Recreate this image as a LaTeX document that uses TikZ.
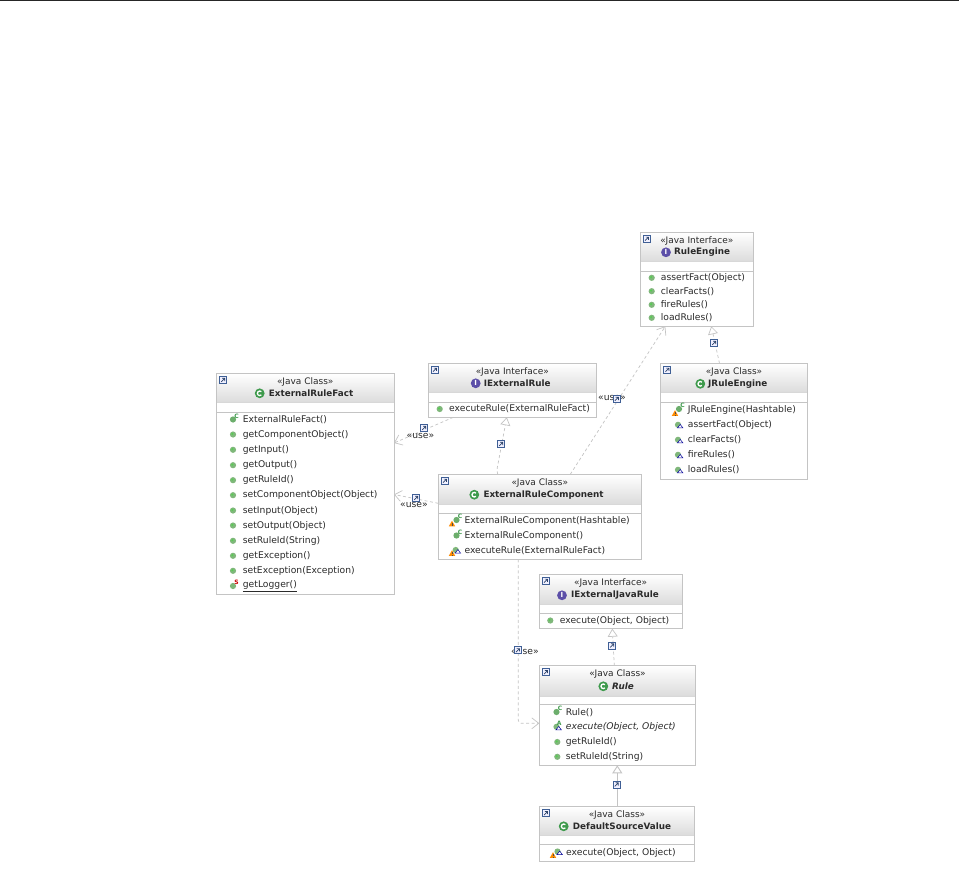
\documentclass[tikz,border=0pt]{standalone}
\usepackage{fontspec}
\setmainfont{DejaVu Sans}
\usetikzlibrary{arrows.meta,calc}
\definecolor{edge}{HTML}{C4C4C4}
\definecolor{sep}{HTML}{D8D8D8}
\definecolor{conn}{HTML}{C4C4C4}
\definecolor{ink}{HTML}{2A2A2A}
\definecolor{mgreen}{HTML}{7FB77A}
\definecolor{cgreen}{HTML}{3E9A4C}
\definecolor{ipurple}{HTML}{5C4FA8}
\definecolor{sqblue}{HTML}{3F5F95}
\tikzset{
  boxstyle/.style={draw=edge,line width=0.9pt,fill=white,inner sep=0pt,outer sep=0pt,anchor=north west},
  memtext/.style={anchor=west,inner sep=0pt,yshift=-0.7pt,font=\fontsize{9.2}{10}\selectfont,text=ink},
  stereotext/.style={anchor=center,inner sep=0pt,font=\fontsize{9}{10}\selectfont,text=ink},
  titletext/.style={anchor=west,inner sep=0pt,font=\fontsize{8.8}{10}\selectfont\bfseries,text=ink},
  uselabel/.style={anchor=center,inner sep=0pt,font=\fontsize{9.2}{10}\selectfont,text=ink},
  dep/.style={draw=conn,line width=0.7pt,dash pattern=on 3pt off 2.5pt,-{Straight Barb[length=7pt,width=11pt]}},
  real/.style={draw=conn,line width=0.7pt,dash pattern=on 3pt off 2.5pt,-{Triangle[open,length=8pt,width=10pt,fill=white]}},
  gen/.style={draw=conn,line width=0.9pt,-{Triangle[open,length=8pt,width=10pt,fill=white]}},
  pics/link/.style={code={
    \fill[white] (-3.5,-3.5) rectangle (3.5,3.5);
    \draw[sqblue,line width=0.8pt,fill=blue!6] (-3.5,-3.5) rectangle (3.5,3.5);
    \draw[sqblue!70!black,line width=0.7pt] (-1.8,1.8) -- (1.7,-1.7) (-1,-1.7) -- (1.7,-1.7) -- (1.7,1);
  }},
  pics/pub/.style={code={\fill[mgreen] (0,0) circle (3.1);\fill[green!35!mgreen] (-0.6,-0.6) circle (1.1);}},
  pics/ctor/.style={code={
    \fill[mgreen!70!cgreen] (0,0) circle (3.1);
    \node[inner sep=0pt,text=cgreen,font=\fontsize{6}{6}\selectfont\bfseries] at (3.5,-3.5) {C};}},
  pics/stat/.style={code={
    \fill[mgreen] (0,0) circle (3.1);
    \node[inner sep=0pt,text=red!80!black,font=\fontsize{6}{6}\selectfont\bfseries] at (3.5,-3.5) {S};}},
  pics/warn/.style={code={
    \fill[orange!90!yellow] (-3.2,2.8) -- (0,-2.8) -- (3.2,2.8) -- cycle;
    \fill[black!70] (-0.4,-1) rectangle (0.4,1.2);\fill[black!70] (-0.4,1.6) rectangle (0.4,2.4);}},
  pics/over/.style={code={
    \fill[mgreen] (0,0) circle (3.1);
    \draw[blue!60!black,line width=0.5pt,fill=white] (-0.5,3) -- (2.2,-0.4) -- (4.8,3) -- cycle;}},
  pics/abst/.style={code={
    \fill[mgreen] (0,0) circle (3.1);
    \draw[blue!60!black,line width=0.5pt,fill=white] (-0.5,3) -- (2.2,-0.4) -- (4.8,3) -- cycle;
    \node[inner sep=0pt,text=cgreen,font=\fontsize{6}{6}\selectfont\bfseries] at (2.8,-3.5) {A};}},
  pics/cicon/.style={code={
    \fill[cgreen] (0,0) circle (4.9);
    \draw[white,line width=1.3pt] (45:2.3) arc (45:315:2.3);}},
  pics/iicon/.style={code={
    \fill[ipurple] (0,0) circle (4.9);
    \node[inner sep=0pt,text=white,font=\fontsize{7}{7}\selectfont\bfseries] at (0,0) {I};}},
}
% name, x1, y1, x2, y2, y header end, y second rule, stereotype
\newcommand\umlbox[8]{%
  \node[boxstyle,minimum width={#4-#2},minimum height={#5-#3}] (#1) at (#2,#3) {};
  \shade[top color=white,bottom color=black!14] (#2,#3) rectangle (#4,#6);
  \draw[sep,line width=0.8pt] (#2,#6) -- (#4,#6);
  \draw[edge,line width=0.8pt] (#2,#7) -- (#4,#7);
  \draw[edge,line width=0.9pt] (#1.north west) rectangle (#1.south east);
  \pic at (#2+6.5,#3+6.5) {link};
  \node[stereotext] at ({(#2+#4)/2},#3+8.5) {«#8};
}
\newcommand\mem[3]{\node[memtext] at (#1,#2) {#3};}
\begin{document}
\begin{tikzpicture}[x=1pt,y=-1pt]
\useasboundingbox (0,0) rectangle (959,870);
\fill[white] (0,0) rectangle (959,870);
\draw[black!85,line width=1pt] (0,0.5) -- (959,0.5);

% ---- ExternalRuleFact
\umlbox{fact}{216.5}{373.5}{394}{594.5}{402.7}{412.3}{Java Class»}
\pic at (259.7,393.3) {cicon};
\node[titletext] at (268.7,393.3) {ExternalRuleFact};
\pic at (233,419.5) {ctor};
\mem{242.7}{419}{ExternalRuleFact()}
\foreach \yy/\tt in {434/getComponentObject(),449.3/getInput(),464.7/getOutput(),479.7/getRuleId(),494.7/setComponentObject(Object),510/setInput(Object),525/setOutput(Object),540.3/setRuleId(String),555.3/getException(),570.3/setException(Exception)}{
  \pic at (233,\yy+0.5) {pub};
  \mem{242.7}{\yy}{\tt}
}
\pic at (233,586) {stat};
\mem{242.7}{585.7}{\underline{getLogger()}}

% ---- IExternalRule
\umlbox{irule}{428.3}{363.3}{596.3}{417.3}{392.7}{402.3}{Java Interface»}
\pic at (475.7,383.3) {iicon};
\node[titletext] at (483.7,383.3) {IExternalRule};
\pic at (439.7,409) {pub};
\mem{449}{408.3}{executeRule(ExternalRuleFact)}

% ---- ExternalRuleComponent
\umlbox{comp}{438.3}{474.3}{641.3}{559.3}{504}{513.7}{Java Class»}
\pic at (474.3,494.7) {cicon};
\node[titletext] at (483.3,494.7) {ExternalRuleComponent};
\pic at (456.5,520) {ctor};
\pic at (452,523.5) {warn};
\mem{464.3}{520}{ExternalRuleComponent(Hashtable)}
\pic at (456.5,535.5) {ctor};
\mem{464.3}{535}{ExternalRuleComponent()}
\pic at (455.7,550) {over};
\pic at (452,553) {warn};
\mem{464.3}{550}{executeRule(ExternalRuleFact)}

% ---- RuleEngine
\umlbox{engine}{640.3}{232.3}{753.3}{326.3}{261.7}{271.3}{Java Interface»}
\pic at (666,252.3) {iicon};
\node[titletext] at (674,252.3) {RuleEngine};
\foreach \yy/\tt in {277.3/assertFact(Object),290.7/clearFacts(),304.3/fireRules(),317.3/loadRules()}{
  \pic at (651.7,\yy+0.5) {pub};
  \mem{660.7}{\yy}{\tt}
}

% ---- JRuleEngine
\umlbox{jengine}{660.7}{363.3}{807.3}{479.3}{392.7}{402.3}{Java Class»}
\pic at (700.3,383.8) {cicon};
\node[titletext] at (708,383.8) {JRuleEngine};
\pic at (679,409) {ctor};
\pic at (675,413) {warn};
\mem{687.7}{409}{JRuleEngine(Hashtable)}
\foreach \yy/\tt in {424.3/assertFact(Object),439.3/clearFacts(),454.3/fireRules(),469.3/loadRules()}{
  \pic at (678,\yy+0.5) {over};
  \mem{687.7}{\yy}{\tt}
}

% ---- IExternalJavaRule
\umlbox{ijava}{539.3}{574.3}{682}{628.7}{604.3}{613.7}{Java Interface»}
\pic at (562,595.3) {iicon};
\node[titletext] at (571,595.3) {IExternalJavaRule};
\pic at (550.3,620.5) {pub};
\mem{559.7}{620}{execute(Object, Object)}

% ---- Rule
\umlbox{rule}{539.3}{665.7}{695.7}{765.3}{696}{704.7}{Java Class»}
\pic at (603.3,686.3) {cicon};
\node[titletext,font=\fontsize{8.8}{10}\selectfont\bfseries\itshape] at (612,686.3) {Rule};
\pic at (556.5,712) {ctor};
\mem{565.7}{711.7}{Rule()}
\pic at (556.5,726.8) {abst};
\mem{565.7}{726.3}{\itshape execute(Object, Object)}
\pic at (557.3,742) {pub};
\mem{565.7}{741.7}{getRuleId()}
\pic at (557.3,756.8) {pub};
\mem{565.7}{756.3}{setRuleId(String)}

% ---- DefaultSourceValue
\umlbox{dsv}{539.3}{806.7}{694.7}{861.3}{835.3}{844.7}{Java Class»}
\pic at (563.7,826.3) {cicon};
\node[titletext] at (572.7,826.3) {DefaultSourceValue};
\pic at (557.5,851.5) {over};
\pic at (553,855) {warn};
\mem{566}{852}{execute(Object, Object)}

% ---- connectors
\draw[dep] ($(irule.south west)+(25,0)$) -- ($(fact.north east)+(0,69.5)$);
\draw[dep] ($(comp.north west)+(0,29)$) -- ($(fact.north east)+(0,121)$);
\draw[real,rounded corners=3pt] ($(comp.north west)+(59.5,0)$) -- +(-1.2,-3) -- ($(irule.south west)+(78.5,0)$);
\draw[dep] ($(comp.north west)+(132,0)$) -- ($(engine.south west)+(25,0)$);
\draw[real] ($(jengine.north west)+(58.8,0)$) -- ($(engine.south west)+(71,0)$);
\draw[dep,rounded corners=3pt] ($(comp.south west)+(80,0)$) |- ($(rule.north west)+(0,57.6)$);
\draw[real] ($(rule.north west)+(75,0)$) -- ($(ijava.south west)+(73,0)$);
\draw[gen] ($(dsv.north west)+(78,0)$) -- ($(rule.south west)+(78,0)$);

% ---- connector marks and labels
\node[uselabel] (u1) at (420.5,436) {«use»};
\pic at (424,428) {link};
\node[uselabel] (u2) at (414,505) {«use»};
\pic at (416,498) {link};
\pic at (501,444) {link};
\node[uselabel] (u3) at (612,397.7) {«use»};
\pic at (616.7,399) {link};
\pic at (714,343) {link};
\node[uselabel] (u4) at (525,652) {«use»};
\pic at (517.7,650.3) {link};
\pic at (612,645.5) {link};
\pic at (616.5,784.5) {link};
\end{tikzpicture}
\end{document}
